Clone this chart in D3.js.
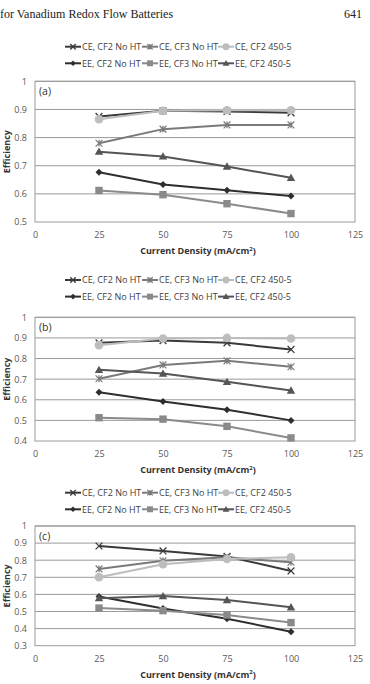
<!DOCTYPE html>
<html><head><meta charset="utf-8">
<script src="https://cdn.jsdelivr.net/npm/d3@7"></script>
<style>body{margin:0;background:#fff;}svg{display:block;}</style>
</head><body>
<svg id="c" width="370" height="684"></svg>
<script>
const currents = [25, 50, 75, 100];
const xTicks = [0, 25, 50, 75, 100, 125];
const seriesNames = ["CE, CF2 No HT", "CE, CF3 No HT", "CE, CF2 450-5", "EE, CF2 No HT", "EE, CF3 No HT", "EE, CF2 450-5"];
const panelLabels = ["(a)", "(b)", "(c)"];
const yTicksA = [0.5, 0.6, 0.7, 0.8, 0.9, 1];
const yTicksB = [0.4, 0.5, 0.6, 0.7, 0.8, 0.9, 1];
const yTicksC = [0.3, 0.4, 0.5, 0.6, 0.7, 0.8, 0.9, 1];
// panel (a)
const a_CE_CF2 = [0.875, 0.895, 0.893, 0.888];
const a_CE_CF3 = [0.780, 0.830, 0.845, 0.845];
const a_CE_450 = [0.865, 0.895, 0.897, 0.897];
const a_EE_CF2 = [0.677, 0.633, 0.613, 0.592];
const a_EE_CF3 = [0.612, 0.597, 0.565, 0.530];
const a_EE_450 = [0.750, 0.733, 0.697, 0.657];
// panel (b)
const b_CE_CF2 = [0.876, 0.887, 0.876, 0.844];
const b_CE_CF3 = [0.702, 0.769, 0.789, 0.760];
const b_CE_450 = [0.865, 0.897, 0.900, 0.897];
const b_EE_CF2 = [0.636, 0.592, 0.552, 0.500];
const b_EE_CF3 = [0.513, 0.506, 0.471, 0.415];
const b_EE_450 = [0.745, 0.727, 0.687, 0.645];
// panel (c)
const c_CE_CF2 = [0.883, 0.854, 0.822, 0.737];
const c_CE_CF3 = [0.749, 0.797, 0.817, 0.788];
const c_CE_450 = [0.700, 0.776, 0.807, 0.817];
const c_EE_CF2 = [0.588, 0.518, 0.458, 0.382];
const c_EE_CF3 = [0.520, 0.505, 0.480, 0.435];
const c_EE_450 = [0.578, 0.590, 0.567, 0.525];

const styles = [
  {color:"#3a3a3a", marker:"x"},
  {color:"#7a7a7a", marker:"star"},
  {color:"#bdbdbd", marker:"circle"},
  {color:"#2e2e2e", marker:"diamond"},
  {color:"#8a8a8a", marker:"square"},
  {color:"#555555", marker:"triangle"}
];

const panels = [
  {label:panelLabels[0], data:[a_CE_CF2,a_CE_CF3,a_CE_450,a_EE_CF2,a_EE_CF3,a_EE_450], yTicks:yTicksA, top:81.3, bottom:222, legendY:46.7},
  {label:panelLabels[1], data:[b_CE_CF2,b_CE_CF3,b_CE_450,b_EE_CF2,b_EE_CF3,b_EE_450], yTicks:yTicksB, top:317.3, bottom:441, legendY:280},
  {label:panelLabels[2], data:[c_CE_CF2,c_CE_CF3,c_CE_450,c_EE_CF2,c_EE_CF3,c_EE_450], yTicks:yTicksC, top:526, bottom:645.7, legendY:492.7}
];

const svg = d3.select("#c");
const font = "'Open Sans', 'Noto Sans', sans-serif";

// header
svg.append("text").attr("x", 0).attr("y", 18).attr("font-family","'Liberation Serif', serif")
  .attr("font-size", 12).attr("fill","#222").text("for Vanadium Redox Flow Batteries");
svg.append("text").attr("x", 362).attr("y", 18).attr("text-anchor","end").attr("font-family","'Liberation Serif', serif")
  .attr("font-size", 12).attr("fill","#222").text("641");

const x = d3.scaleLinear().domain([0,125]).range([35,355]);

function drawMarker(g, type, cx, cy, color, s) {
  s = s || 1;
  if (type === "x") {
    const r = 3.4*s;
    g.append("path").attr("d",`M${cx-r},${cy-r}L${cx+r},${cy+r}M${cx-r},${cy+r}L${cx+r},${cy-r}`).attr("stroke",color).attr("stroke-width",1.3).attr("fill","none");
  } else if (type === "star") {
    const r = 3.4*s;
    g.append("path").attr("d",`M${cx-r},${cy-r}L${cx+r},${cy+r}M${cx-r},${cy+r}L${cx+r},${cy-r}M${cx},${cy-r}L${cx},${cy+r}`).attr("stroke",color).attr("stroke-width",1.2).attr("fill","none");
  } else if (type === "circle") {
    g.append("circle").attr("cx",cx).attr("cy",cy).attr("r",4.3*s).attr("fill",color);
  } else if (type === "diamond") {
    const r = 3.5*s;
    g.append("path").attr("d",`M${cx},${cy-r}L${cx+r},${cy}L${cx},${cy+r}L${cx-r},${cy}Z`).attr("fill",color);
  } else if (type === "square") {
    const r = 3.7*s;
    g.append("rect").attr("x",cx-r).attr("y",cy-r).attr("width",2*r).attr("height",2*r).attr("fill",color);
  } else if (type === "triangle") {
    const r = 4.2*s;
    g.append("path").attr("d",`M${cx},${cy-r}L${cx+r},${cy+r*0.75}L${cx-r},${cy+r*0.75}Z`).attr("fill",color);
  }
}

panels.forEach(p => {
  const g = svg.append("g");
  const y = d3.scaleLinear().domain([p.yTicks[0], 1]).range([p.bottom, p.top]);

  // legend
  const colX = [65, 142, 218];
  seriesNames.forEach((name, i) => {
    const row = Math.floor(i/3), col = i%3;
    const ly = p.legendY + row*16.6;
    const lx = colX[col];
    const st = styles[i];
    g.append("line").attr("x1",lx).attr("x2",lx+16).attr("y1",ly).attr("y2",ly).attr("stroke",st.color).attr("stroke-width",2);
    drawMarker(g, st.marker, lx+8, ly, st.color, 0.8);
    g.append("text").attr("x",lx+17).attr("y",ly+3.3).attr("font-family",font).attr("font-size",9)
      .attr("fill","#404040").text(name);
  });

  // gridlines
  g.selectAll(".grid").data(p.yTicks.slice(1)).enter().append("line")
    .attr("x1",x(0)).attr("x2",x(125)).attr("y1",d=>y(d)).attr("y2",d=>y(d))
    .attr("stroke","#9a9a9a").attr("stroke-width",1);
  // plot border
  g.append("rect").attr("x",x(0)).attr("y",y(1)).attr("width",x(125)-x(0)).attr("height",y(p.yTicks[0])-y(1))
    .attr("fill","none").attr("stroke","#9a9a9a").attr("stroke-width",1);

  // y axis labels
  const yAxis = d3.axisLeft(y).tickValues(p.yTicks).tickSize(0).tickPadding(8)
    .tickFormat(d => d === 1 ? "1" : d3.format(".1f")(d));
  const ya = g.append("g").attr("transform",`translate(${x(0)},0)`).call(yAxis);
  ya.select(".domain").remove();
  ya.selectAll("text").attr("font-family",font).attr("font-size",9).attr("fill","#595959");

  // x axis labels
  const xAxis = d3.axisBottom(x).tickValues(xTicks).tickSize(0).tickPadding(10);
  const xa = g.append("g").attr("transform",`translate(0,${p.bottom})`).call(xAxis);
  xa.select(".domain").remove();
  xa.selectAll("text").attr("font-family",font).attr("font-size",9).attr("fill","#595959");

  // x title
  const xt = g.append("text").attr("x",198).attr("y",p.bottom+32).attr("text-anchor","middle")
    .attr("font-family",font).attr("font-size",9).attr("font-weight","bold").attr("fill","#333");
  xt.append("tspan").text("Current Density (mA/cm");
  xt.append("tspan").attr("font-size",6).attr("dy",-3.5).text("2");
  xt.append("tspan").attr("dy",3.5).text(")");

  // y title
  g.append("text").attr("transform",`translate(10,${(p.top+p.bottom)/2}) rotate(-90)`).attr("text-anchor","middle")
    .attr("font-family",font).attr("font-size",9).attr("font-weight","bold").attr("fill","#333").text("Efficiency");

  // panel label
  g.append("text").attr("x",39).attr("y",p.top+13.5).attr("font-family",font).attr("font-size",10.5).attr("fill","#333").text(p.label);

  // series
  const line = d3.line().x((d,i)=>x(currents[i])).y(d=>y(d));
  p.data.forEach((vals, i) => {
    const st = styles[i];
    g.append("path").attr("d", line(vals)).attr("fill","none").attr("stroke",st.color).attr("stroke-width",2);
    vals.forEach((v, j) => drawMarker(g, st.marker, x(currents[j]), y(v), st.color));
  });
});
</script>
</body></html>
